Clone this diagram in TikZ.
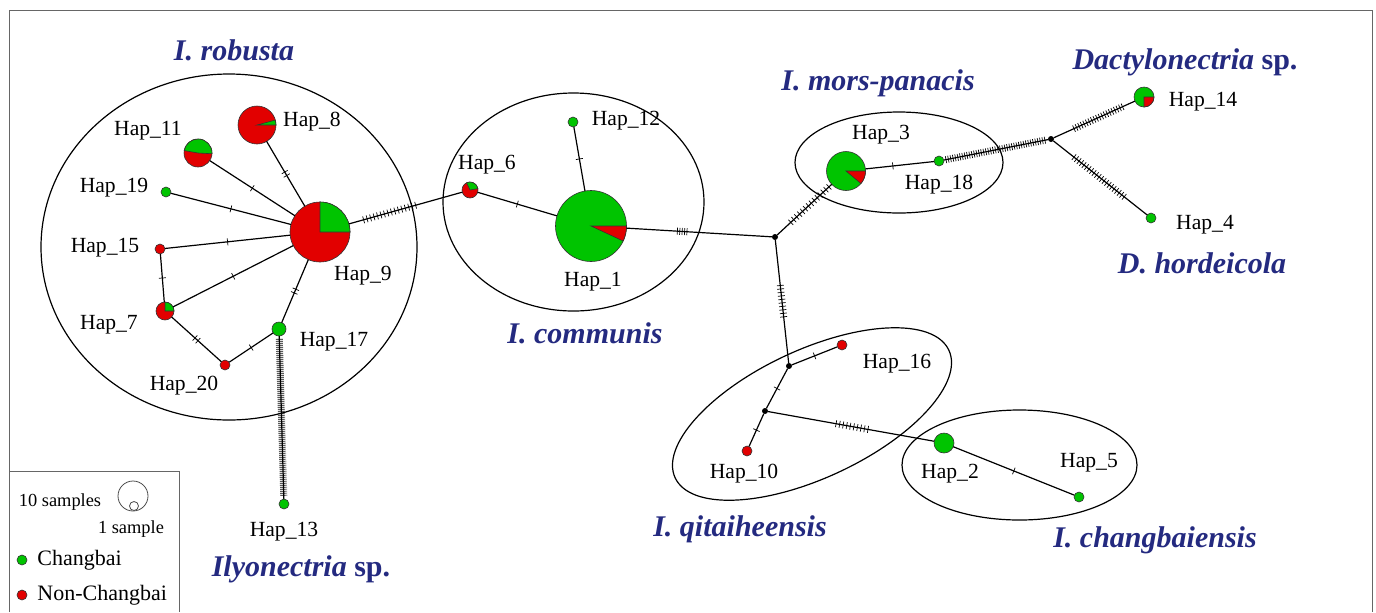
\documentclass[tikz,border=0pt]{standalone}
\usepackage{fontspec}
\setmainfont{Liberation Serif}
\usetikzlibrary{decorations.markings}
\definecolor{cbgreen}{RGB}{0,196,0}
\definecolor{ncred}{RGB}{226,0,0}
\definecolor{taxblue}{RGB}{36,42,128}
\tikzset{
  hap/.style={circle, draw=black!80, line width=0.3pt, inner sep=0pt, outer sep=0pt, minimum size=#1, fill=cbgreen},
  junc/.style={circle, fill=black, inner sep=0pt, outer sep=0pt, minimum size=3pt},
  hlab/.style={inner sep=0pt, font=\fontsize{10.8}{13}\selectfont},
  taxon/.style={inner sep=0pt, text=taxblue, font=\fontsize{15}{18}\selectfont\bfseries\itshape},
  leg/.style={inner sep=0pt, font=\fontsize{9.2}{11}\selectfont},
  legbig/.style={inner sep=0pt, font=\fontsize{11}{13}\selectfont},
  lcirc/.style={circle, draw=black!70, line width=0.4pt, inner sep=0pt},
  frame/.style={draw=black!60, line width=0.5pt},
  edge/.style={line width=0.6pt},
  group/.style={line width=0.6pt},
  mtick/.style={line width=0.35pt},
  mut/.style={postaction={decorate, decoration={markings, mark=at position #1 with {\draw[mtick] (0,-3.5) -- (0,3.5);}}}},
  mut/.default=0.5,
  dmut/.style={postaction={decorate, decoration={markings, mark=at position 0.5 with {\draw[mtick] (-2,-3.5) -- (-2,3.5) (2,-3.5) -- (2,3.5);}}}},
  muts/.style n args={3}{postaction={decorate, decoration={markings, mark=between positions #1 and #2 step #3 with {\draw[mtick] (0,-3.5) -- (0,3.5);}}}}
}
% pie slice: node, colour, radius, start, end
\newcommand{\hapslice}[5]{\filldraw[fill=#2, draw=black!80, line width=0.3pt] (#1.center) -- ++(#4:#3) arc[start angle=#4, end angle=#5, radius=#3] -- cycle;}
\begin{document}
\begin{tikzpicture}[x=0.5pt, y=0.5pt]
  \useasboundingbox (0,0) rectangle (1376,-612);
  % frame and legend box
  \draw[frame] (9,-612) -- (9,-10) -- (1372,-10) -- (1372,-612);
  \draw[frame] (9,-471) -- (179,-471) -- (179,-612);

  % groups
  \draw[group] (229,-247) ellipse [x radius=94pt, y radius=86.5pt];
  \draw[group] (573.5,-202) ellipse [x radius=65.25pt, y radius=54.5pt];
  \draw[group] (899,-162.5) ellipse [x radius=52pt, y radius=25.25pt];
  \draw[group, rotate around={25:(812,-414)}] (812,-414) ellipse [x radius=75.5pt, y radius=32pt];
  \draw[group] (1019.5,-465) ellipse [x radius=58.75pt, y radius=27.5pt];

  % haplotypes
  \node[hap=30pt, fill=ncred] (h9) at (320,-232) {};
  \node[hap=19pt, fill=ncred] (h8) at (257,-125) {};
  \node[hap=14pt, fill=ncred] (h11) at (198,-153) {};
  \node[hap=5pt] (h19) at (166,-192) {};
  \node[hap=5pt, fill=ncred] (h15) at (160,-249) {};
  \node[hap=9pt, fill=ncred] (h7) at (165,-311) {};
  \node[hap=7pt] (h17) at (279,-329) {};
  \node[hap=5pt, fill=ncred] (h20) at (225,-365) {};
  \node[hap=5pt] (h13) at (284,-504) {};
  \node[hap=8pt, fill=ncred] (h6) at (470,-190) {};
  \node[hap=35.5pt] (h1) at (591,-226) {};
  \node[hap=5pt] (h12) at (573,-122) {};
  \node[hap=19.5pt] (h3) at (846,-171) {};
  \node[hap=5pt] (h18) at (939,-161) {};
  \node[hap=10pt] (h14) at (1144,-97) {};
  \node[hap=5pt] (h4) at (1151,-218) {};
  \node[hap=5pt, fill=ncred] (h16) at (842,-345) {};
  \node[hap=5pt, fill=ncred] (h10) at (747,-451) {};
  \node[hap=10pt] (h2) at (944,-443) {};
  \node[hap=5pt] (h5) at (1079,-497) {};
  % median vectors
  \node[junc] (j1) at (775,-237) {};
  \node[junc] (j2) at (789,-366) {};
  \node[junc] (j3) at (1051,-139) {};
  \node[junc] (j4) at (765,-411) {};

  \hapslice{h9}{cbgreen}{15pt}{0}{90}
  \hapslice{h8}{cbgreen}{9.5pt}{0}{15}
  \hapslice{h11}{cbgreen}{7pt}{-3}{170}
  \hapslice{h7}{cbgreen}{4.5pt}{0}{90}
  \hapslice{h6}{cbgreen}{4pt}{10}{115}
  \hapslice{h1}{ncred}{17.75pt}{-25}{0}
  \hapslice{h3}{ncred}{9.75pt}{-40}{0}
  \hapslice{h14}{ncred}{5pt}{-90}{0}

  % links
  \draw[edge, dmut] (h9) -- (h8);
  \draw[edge, mut] (h9) -- (h11);
  \draw[edge, mut] (h9) -- (h19);
  \draw[edge, mut] (h9) -- (h15);
  \draw[edge, mut] (h9) -- (h7);
  \draw[edge, dmut] (h9) -- (h17);
  \draw[edge, mut] (h15) -- (h7);
  \draw[edge, dmut] (h7) -- (h20);
  \draw[edge, mut] (h20) -- (h17);
  \draw[edge, muts={0.02}{0.98}{1pt}] (h17) -- (h13);
  \draw[edge, muts={0.13}{0.6}{1.8pt}] (h9) -- (h6);
  \draw[edge, mut] (h6) -- (h1);
  \draw[edge, mut] (h12) -- (h1);
  \draw[edge, muts={0.35}{0.42}{1.2pt}] (h1) -- (j1);
  \draw[edge, muts={0.37}{0.64}{1.75pt}] (j1) -- (j2);
  \draw[edge, muts={0.25}{0.95}{2pt}] (j1) -- (h3);
  \draw[edge, mut=0.4] (h3) -- (h18);
  \draw[edge, muts={0.02}{0.98}{1.2pt}] (h18) -- (j3);
  \draw[edge, muts={0.25}{0.86}{1.4pt}] (j3) -- (h14);
  \draw[edge, muts={0.22}{0.77}{1.6pt}] (j3) -- (h4);
  \draw[edge, mut] (j2) -- (h16);
  \draw[edge, mut] (j2) -- (j4);
  \draw[edge, mut] (j4) -- (h10);
  \draw[edge, muts={0.41}{0.62}{1.8pt}] (j4) -- (h2);
  \draw[edge, mut] (h2) -- (h5);

  % haplotype labels
  \node[hlab] (t11) at (148,-131) {Hap\_11};
  \node[hlab] (t8) at (312,-122) {Hap\_8};
  \node[hlab] (t19) at (114,-188) {Hap\_19};
  \node[hlab] (t15) at (105,-248) {Hap\_15};
  \node[hlab] (t9) at (363,-276) {Hap\_9};
  \node[hlab] (t7) at (109,-325) {Hap\_7};
  \node[hlab] (t17) at (334,-342) {Hap\_17};
  \node[hlab] (t20) at (184,-386) {Hap\_20};
  \node[hlab] (t13) at (284,-532) {Hap\_13};
  \node[hlab] (t12) at (626,-121) {Hap\_12};
  \node[hlab] (t6) at (487,-165) {Hap\_6};
  \node[hlab] (t1) at (593,-282) {Hap\_1};
  \node[hlab] (t3) at (881,-135) {Hap\_3};
  \node[hlab] (t18) at (939,-185) {Hap\_18};
  \node[hlab] (t14) at (1203,-102) {Hap\_14};
  \node[hlab] (t4) at (1205,-225) {Hap\_4};
  \node[hlab] (t16) at (897,-364) {Hap\_16};
  \node[hlab] (t10) at (744,-474) {Hap\_10};
  \node[hlab] (t2) at (950,-474) {Hap\_2};
  \node[hlab] (t5) at (1089,-463) {Hap\_5};

  % species
  \node[taxon] (robusta) at (234,-50) {I. robusta};
  \node[taxon] (communis) at (585,-333) {I. communis};
  \node[taxon] (morspan) at (878,-83) {I. mors-panacis};
  \node[taxon] (dactyl) at (1185,-62) {Dactylonectria {\upshape sp.}};
  \node[taxon] (hordei) at (1202,-263) {D. hordeicola};
  \node[taxon] (qitai) at (740,-529) {I. qitaiheensis};
  \node[taxon] (changb) at (1155,-540) {I. changbaiensis};
  \node[taxon] (ilyon) at (301,-569) {Ilyonectria {\upshape sp.}};

  % legend
  \node[leg] (l10) at (60,-502) {10 samples};
  \node[lcirc, minimum size=15pt] (lbig) at (133,-496) {};
  \node[lcirc, minimum size=4.5pt] (lsmall) at (134,-506) {};
  \node[leg] (l1) at (131,-529) {1 sample};
  \node[hap=5pt] (lcb) at (22,-560) {};
  \node[legbig, anchor=west] (tcb) at (37,-560) {Changbai};
  \node[hap=5pt, fill=ncred] (lnc) at (22,-595) {};
  \node[legbig, anchor=west] (tnc) at (37,-595) {Non-Changbai};
\end{tikzpicture}
\end{document}
